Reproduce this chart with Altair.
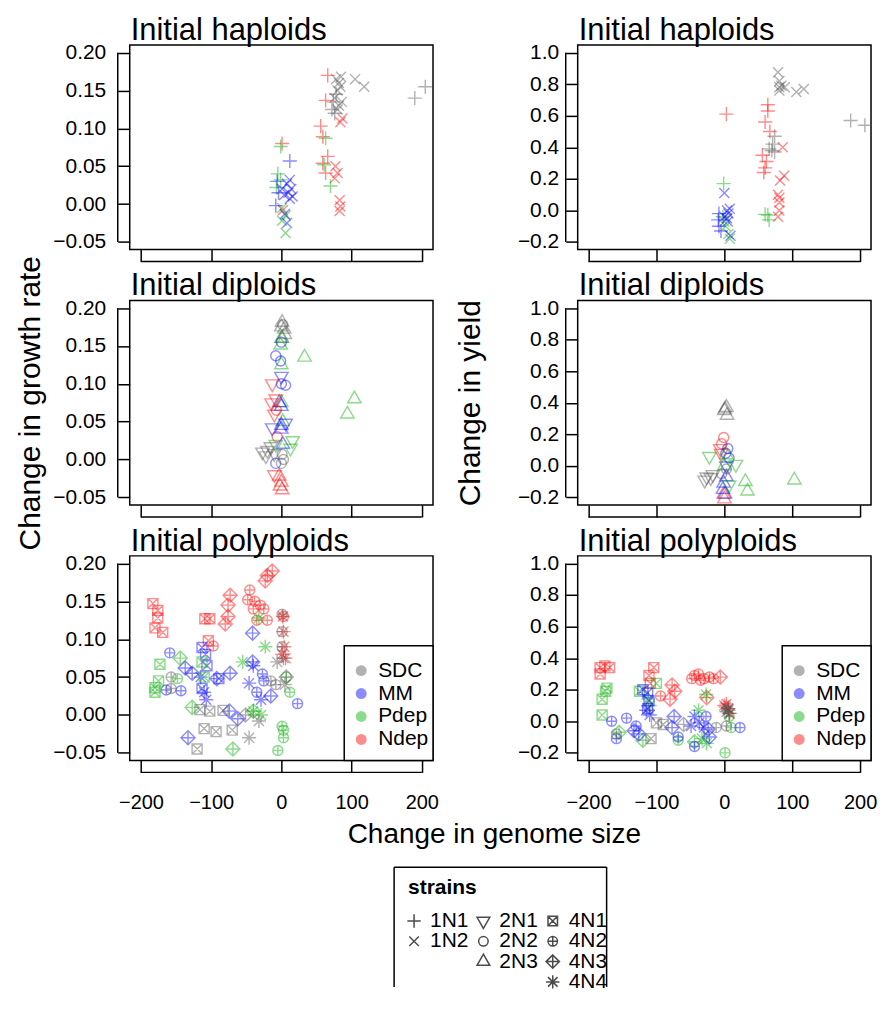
import altair as alt
import pandas as pd

FONT = "Liberation Sans"

ENVS = ["SDC", "MM", "Pdep", "Ndep"]
ENV_COLORS = ["#555555", "#0000ff", "#00b000", "#ff0000"]
STRAINS = ["1N1", "1N2", "2N1", "2N2", "2N3", "4N1", "4N2", "4N3", "4N4"]
# R-like plotting symbols as SVG paths (pch 3, 4, 6, 1, 2, 7, 10, 9, 8)
CIRC = "M0.71,0A0.71,0.71,0,1,1,-0.71,0A0.71,0.71,0,1,1,0.71,0Z"
SHAPES = [
    "M-1,0L1,0M0,-1L0,1",
    "M-0.71,-0.71L0.71,0.71M0.71,-0.71L-0.71,0.71",
    "M0,1.1L0.95,-0.55L-0.95,-0.55Z",
    CIRC,
    "M0,-1.1L0.95,0.55L-0.95,0.55Z",
    "M-0.71,-0.71L0.71,-0.71L0.71,0.71L-0.71,0.71ZM-0.71,-0.71L0.71,0.71M0.71,-0.71L-0.71,0.71",
    CIRC + "M-0.71,0L0.71,0M0,-0.71L0,0.71",
    "M0,-1L1,0L0,1L-1,0ZM0,-1L0,1M-1,0L1,0",
    "M-0.71,-0.71L0.71,0.71M0.71,-0.71L-0.71,0.71M-1,0L1,0M0,-1L0,1",
]

# ---- data: (strain, environment, genome-size changes, trait changes) ----
hap_growth = [
    ("1N1", "SDC", [190, 205, 72, 74, 76, 78], [0.140, 0.155, 0.125, 0.135, 0.120, 0.145]),
    ("1N2", "SDC", [78, 82, 85, 80, 84, 76, 82, 86, 80, 105, 118],
     [0.165, 0.160, 0.168, 0.150, 0.155, 0.140, 0.130, 0.135, 0.125, 0.165, 0.155]),
    ("1N1", "Ndep", [66, 63, 56, 59, 66, 59, 63, 1], [0.170, 0.137, 0.103, 0.089, 0.063, 0.054, 0.041, 0.080]),
    ("1N2", "Ndep", [87, 84, 77, 80, 76, 83, 84, 83, 2],
     [0.113, 0.108, 0.050, 0.041, 0.034, 0.005, -0.003, -0.009, -0.008]),
    ("1N1", "Pdep", [-1, -5, -1, -7, 63, 61, 70], [0.076, 0.040, 0.032, 0.022, 0.087, 0.052, 0.024]),
    ("1N2", "Pdep", [6, 1, 6, 1], [-0.015, -0.022, -0.038, -0.005]),
    ("1N1", "MM", [12, -8, -4, -6], [0.057, -0.002, 0.015, 0.030]),
    ("1N2", "MM", [12, 8, 14, 10, 4, 16, 12, 5, 8, 1],
     [0.032, 0.027, 0.020, 0.015, 0.012, 0.010, 0.007, -0.013, -0.025, 0.020]),
]
hap_yield = [
    ("1N2", "SDC", [79, 81, 84, 81, 89, 81, 106, 117], [0.875, 0.82, 0.79, 0.78, 0.78, 0.76, 0.75, 0.77]),
    ("1N1", "SDC", [186, 207, 74, 70, 74, 66, 71], [0.57, 0.54, 0.47, 0.38, 0.37, 0.39, 0.42]),
    ("1N1", "Ndep", [3, 64, 64, 60, 67, 56, 62, 60, 58], [0.61, 0.67, 0.63, 0.56, 0.50, 0.35, 0.31, 0.27, 0.24]),
    ("1N2", "Ndep", [86, 88, 82, 79, 81, 81, 81, 79], [0.40, 0.22, 0.19, 0.10, 0.08, 0.05, 0.0, -0.04]),
    ("1N1", "Pdep", [-1, 60, 64, 66, -2], [0.17, -0.025, -0.03, -0.06, -0.04]),
    ("1N2", "Pdep", [6, 8, 2, 0], [-0.15, -0.18, -0.10, -0.07]),
    ("1N2", "MM", [0, 4, 8, 6, 0, 5, 9, 4], [0.11, 0.0, 0.01, -0.02, -0.04, -0.07, -0.16, -0.05]),
    ("1N1", "MM", [-8, -9, -8, -5], [-0.02, -0.06, -0.10, -0.13]),
]
dip_growth = [
    ("2N3", "SDC", [1, 4, 0, 5, 1], [0.181, 0.172, 0.175, 0.165, 0.160]),
    ("2N3", "Pdep", [-1, 0, 33, 104, 94, 0, 0, 2], [0.151, 0.160, 0.135, 0.080, 0.060, 0.125, 0.075, 0.050]),
    ("2N2", "MM", [-8, 0, -1, 6, 0, -8], [0.137, 0.155, 0.130, 0.098, 0.100, -0.005]),
    ("2N1", "MM", [0, -13, 6], [0.110, 0.042, 0.048]),
    ("2N3", "MM", [-3, 0, 0, 0, 2], [0.075, 0.070, 0.045, 0.040, 0.020]),
    ("2N1", "Ndep", [-13, -14, -10, -8, -10], [0.100, 0.075, 0.060, 0.080, -0.020]),
    ("2N3", "Ndep", [-3, 0, -2, 1], [-0.022, -0.030, -0.035, -0.040]),
    ("2N2", "Ndep", [-7, -6], [0.065, 0.030]),
    ("2N1", "Pdep", [16, 13, -8], [0.025, 0.015, 0.020]),
    ("2N1", "SDC", [-27, -20, -15, -22, -10], [0.010, 0.012, 0.017, 0.005, 0.008]),
    ("2N2", "SDC", [3, 0, 1, 2], [0.000, -0.005, 0.007, 0.178]),
]
dip_yield = [
    ("2N3", "SDC", [3, 0, 4, 1], [0.37, 0.35, 0.32, 0.36]),
    ("2N1", "SDC", [-26, -17, -29, -20], [-0.07, -0.055, -0.09, -0.075]),
    ("2N2", "Ndep", [-1, -4], [0.18, 0.14]),
    ("2N1", "Ndep", [-6, -5], [0.11, 0.08]),
    ("2N3", "Ndep", [0, -1], [-0.21, -0.18]),
    ("2N2", "MM", [5, 2, 7], [0.11, 0.08, 0.05]),
    ("2N3", "MM", [3, -1, -2, 1], [-0.07, -0.11, -0.15, -0.18]),
    ("2N1", "MM", [3], [0.0]),
    ("2N1", "Pdep", [-22, 17, 7], [0.06, 0.01, -0.12]),
    ("2N3", "Pdep", [31, 34, 103, 3, 0], [-0.10, -0.16, -0.09, 0.07, 0.0]),
    ("2N2", "SDC", [-4, 3], [-0.05, -0.02]),
]
poly_growth = [
    ("4N1", "Ndep", [-183, -176, -176, -180, -169, -109, -102, -104],
     [0.147, 0.138, 0.128, 0.115, 0.109, 0.127, 0.127, 0.098]),
    ("4N2", "Ndep", [-97, -45, -38, -30, -25, -40, -20, -35, 3, -48],
     [0.091, 0.165, 0.150, 0.145, 0.140, 0.140, 0.125, 0.125, 0.130, 0.152]),
    ("4N3", "Ndep", [-73, -76, -76, -80, -20, -13, -23], [0.158, 0.145, 0.130, 0.120, 0.184, 0.190, 0.177]),
    ("4N4", "Ndep", [2, 4, 1, 6, 3], [0.130, 0.090, 0.080, 0.075, 0.110]),
    ("4N2", "MM", [-159, -164, -143, -27, -25, -35, 23], [0.082, 0.033, 0.032, 0.054, 0.045, 0.030, 0.015]),
    ("4N3", "MM", [-137, -127, -92, -73, -41, -41, -74, -62, -133, -15],
     [0.062, 0.055, 0.048, 0.055, 0.108, 0.070, 0.005, -0.005, -0.030, 0.025]),
    ("4N1", "MM", [-113, -108, -106, -113, -89], [0.089, 0.080, 0.065, 0.035, 0.048]),
    ("4N4", "MM", [-115, -110, -107, -46, -29, -40], [0.050, 0.030, 0.020, 0.042, 0.020, 0.065]),
    ("4N1", "Pdep", [-173, -175, -180, -180, -113, -110], [0.067, 0.045, 0.036, 0.030, 0.070, 0.050]),
    ("4N2", "Pdep", [1, 3, 3, -5, 7, 12, -148], [-0.015, -0.020, -0.030, -0.047, 0.050, 0.030, 0.048]),
    ("4N3", "Pdep", [-144, -127, -69, -40], [0.075, 0.010, -0.045, 0.005]),
    ("4N4", "Pdep", [-55, -23, -32, -40, -29], [0.070, 0.090, 0.128, 0.005, 0.000]),
    ("4N1", "SDC", [-120, -110, -93, -70, -102, -83, -116], [-0.045, -0.018, -0.022, -0.020, 0.005, 0.006, 0.007]),
    ("4N2", "SDC", [-157, -157, 1, 1, 1, -8, -15], [0.050, 0.035, 0.133, 0.110, 0.090, 0.040, 0.045]),
    ("4N3", "SDC", [7, -51], [0.050, 0.000]),
    ("4N4", "SDC", [-46, -32, -6, 3, 5], [-0.030, -0.008, 0.070, 0.075, 0.040]),
]
poly_yield = [
    ("4N1", "Ndep", [-183, -176, -169, -183, -104, -111, -109], [0.34, 0.35, 0.34, 0.30, 0.34, 0.29, 0.24]),
    ("4N2", "Ndep", [-44, -38, -30, -22, -48, -35, -94, -16], [0.29, 0.30, 0.27, 0.28, 0.27, 0.26, 0.16, 0.27]),
    ("4N3", "Ndep", [-77, -73, -80, -6, -26], [0.23, 0.19, 0.14, 0.28, 0.15]),
    ("4N4", "Ndep", [6, 3, 8, 0], [0.08, 0.11, 0.05, 0.10]),
    ("4N1", "Pdep", [-173, -175, -180, -180, -125, -100], [0.21, 0.19, 0.14, 0.04, 0.19, 0.24]),
    ("4N2", "Pdep", [1, -68, 7, 10], [-0.20, -0.12, 0.03, -0.04]),
    ("4N3", "Pdep", [-155, -120, -44], [-0.07, -0.12, -0.13]),
    ("4N4", "Pdep", [-110, -27, -33, -26, -38, -112], [0.10, 0.17, -0.11, -0.14, 0.07, 0.14]),
    ("4N2", "MM", [-166, -159, -144, -130, -44, -27, 23, -68], [0.0, -0.11, 0.02, -0.03, -0.16, 0.03, -0.04, -0.10]),
    ("4N3", "MM", [-133, -126, -77, -74, -22, -24], [-0.06, -0.08, -0.04, 0.03, -0.10, -0.05]),
    ("4N1", "MM", [-120, -113, -111, -113], [0.20, 0.18, 0.13, 0.08]),
    ("4N4", "MM", [-115, -110, -44, -37, -30, -49], [0.07, 0.04, 0.03, -0.01, -0.04, -0.03]),
    ("4N1", "SDC", [-108, -100, -90], [-0.11, -0.01, -0.02]),
    ("4N2", "SDC", [-159, -12, 3], [-0.08, -0.04, -0.03]),
    ("4N3", "SDC", [-60], [-0.02]),
    ("4N4", "SDC", [3, 5, 7, 2, 6], [0.06, 0.08, 0.05, 0.09, 0.07]),
]

# strains legend layout (column / row of each strain entry)
STRAIN_COL = [0, 0, 1, 1, 1, 2, 2, 2, 2]
STRAIN_ROW = [0, 1, 0, 1, 2, 0, 1, 2, 3]

GROWTH_TICKS = [-0.05, 0.0, 0.05, 0.10, 0.15, 0.20]
YIELD_TICKS = [-0.2, 0.0, 0.2, 0.4, 0.6, 0.8, 1.0]
X_TICKS = [-200, -100, 0, 100, 200]
X_DOMAIN = [-216, 216]
GROWTH_DOMAIN = [-0.06, 0.21]
YIELD_DOMAIN = [-0.248, 1.048]

W_L, W_R, H = 304, 294, 205
TICK = 12

color_scale = alt.Scale(domain=ENVS, range=ENV_COLORS)
shape_scale = alt.Scale(domain=STRAINS, range=SHAPES)
ONE = pd.DataFrame({"a": [0]})


def to_df(groups):
    rows = []
    for strain, env, xs, ys in groups:
        for xv, yv in zip(xs, ys):
            rows.append({"strain": strain, "env": env, "dgs": xv, "val": yv})
    return pd.DataFrame(rows)


def color_legend(width):
    leg_df = pd.DataFrame({"env": ENVS, "row": [0, 1, 2, 3]})
    box = alt.Chart(ONE).mark_rect(
        fill="white", stroke="black", strokeWidth=1.5
    ).encode(x=alt.value(width - 89), x2=alt.value(width), y=alt.value(90), y2=alt.value(H))
    ly = alt.Y("row:Q", scale=alt.Scale(domain=[0, 3], range=[115, 184]), axis=None)
    dots = alt.Chart(leg_df).mark_point(filled=True, shape="circle", size=120, opacity=0.45).encode(
        x=alt.value(width - 72), y=ly,
        color=alt.Color("env:N", scale=color_scale, legend=None),
    )
    labs = alt.Chart(leg_df).mark_text(align="left", baseline="middle", fontSize=21,
                                       font=FONT, color="black").encode(
        x=alt.value(width - 55), y=ly, text="env:N")
    return alt.layer(box, dots, labs)


def strains_legend():
    # placed below the bottom-left panel (offsets relative to its plot area)
    ox, oy, bottom = 265, 312, 432
    sdf = pd.DataFrame({"strain": STRAINS, "col": STRAIN_COL, "row": STRAIN_ROW})
    sx = alt.X("col:Q", scale=alt.Scale(domain=[0, 2], range=[ox + 20, ox + 159]), axis=None)
    sy = alt.Y("row:Q", scale=alt.Scale(domain=[0, 3], range=[oy + 54, oy + 115]), axis=None)
    edge = alt.Chart(ONE).mark_rule(color="black", strokeWidth=1.5)
    top = edge.encode(x=alt.value(ox), x2=alt.value(ox + 213), y=alt.value(oy))
    left = edge.encode(x=alt.value(ox), y=alt.value(oy), y2=alt.value(bottom))
    right = edge.encode(x=alt.value(ox + 213), y=alt.value(oy), y2=alt.value(bottom))
    ssym = alt.Chart(sdf).mark_point(filled=False, color="black", strokeWidth=1.5, size=180).encode(
        x=sx, y=sy, shape=alt.Shape("strain:N", scale=shape_scale, legend=None))
    stxt = alt.Chart(sdf).mark_text(align="left", baseline="middle", dx=16, fontSize=21,
                                    font=FONT, color="black").encode(x=sx, y=sy, text="strain:N")
    sttl = alt.Chart(pd.DataFrame({"t": ["strains"]})).mark_text(
        align="left", baseline="alphabetic", fontSize=21, fontWeight="bold", font=FONT, color="black"
    ).encode(x=alt.value(ox + 14), y=alt.value(oy + 27), text="t:N")
    return alt.layer(top, left, right, ssym, stxt, sttl)


def panel(groups, ydom, yticks, yfmt, title, width, bottom=False, ytitle=None,
          ytitle_x=0, xtitle=None, legend=False, strains=False, label_pad=8, anchor=False):
    df = to_df(groups)
    xscale = alt.Scale(domain=X_DOMAIN, nice=False, zero=False)
    yscale = alt.Scale(domain=ydom, nice=False, zero=False)
    xaxis_kw = dict(values=X_TICKS, labels=bottom, format="d", labelPadding=20,
                    labelFontSize=20)
    if xtitle:
        xaxis_kw.update(title=xtitle, titleX=365, titleY=82, titleAlign="center",
                        titleBaseline="alphabetic", titleFontSize=28)
    else:
        xaxis_kw.update(title=None)
    xaxis = alt.Axis(**xaxis_kw)
    yaxis_kw = dict(values=yticks, format=yfmt, labelPadding=label_pad, labelFontSize=21)
    if ytitle:
        yaxis_kw.update(title=ytitle, titleX=ytitle_x, titleY=H / 2, titleAngle=270,
                        titleAlign="center", titleBaseline="alphabetic", titleFontSize=30)
    else:
        yaxis_kw.update(title=None)
    yaxis = alt.Axis(**yaxis_kw)

    pts = alt.Chart(df).mark_point(filled=False, strokeWidth=1.4, opacity=0.45, size=200).encode(
        x=alt.X("dgs:Q", scale=xscale, axis=xaxis),
        y=alt.Y("val:Q", scale=yscale, axis=yaxis),
        color=alt.Color("env:N", scale=color_scale, legend=None),
        shape=alt.Shape("strain:N", scale=shape_scale, legend=None),
    )
    ext = pd.DataFrame({"ylo": [yticks[0]], "yhi": [yticks[-1]],
                        "xlo": [X_TICKS[0]], "xhi": [X_TICKS[-1]]})
    yline = alt.Chart(ext).mark_rule(color="black", strokeWidth=1.5).encode(
        x=alt.value(-TICK),
        y=alt.Y("ylo:Q", scale=yscale, axis=yaxis),
        y2="yhi:Q",
    )
    xline = alt.Chart(ext).mark_rule(color="black", strokeWidth=1.5).encode(
        y=alt.value(H + TICK),
        x=alt.X("xlo:Q", scale=xscale, axis=xaxis),
        x2="xhi:Q",
    )
    ttl = alt.Chart(pd.DataFrame({"t": [title]})).mark_text(
        align="left", baseline="alphabetic", fontSize=31, font=FONT, color="black"
    ).encode(text="t:N", x=alt.value(1), y=alt.value(-5))
    layers = [pts, yline, xline, ttl]
    if anchor:
        # invisible marker fixing the top-left corner of the drawing
        layers.append(alt.Chart(ONE).mark_point(opacity=0, size=1).encode(
            x=alt.value(-120), y=alt.value(-34)))
    main = alt.layer(*layers)
    extras = []
    if legend:
        extras.append(color_legend(width))
    if strains:
        extras.append(strains_legend())
    if extras:
        main = alt.layer(main, *extras).resolve_scale(x="independent", y="independent")
    return main.properties(width=width, height=H)


p11 = panel(hap_growth, GROWTH_DOMAIN, GROWTH_TICKS, ".2f", "Initial haploids", W_L, label_pad=12,
            anchor=True)
p12 = panel(hap_yield, YIELD_DOMAIN, YIELD_TICKS, ".1f", "Initial haploids", W_R, label_pad=7)
p21 = panel(dip_growth, GROWTH_DOMAIN, GROWTH_TICKS, ".2f", "Initial diploids", W_L, label_pad=12,
            ytitle="Change in growth rate", ytitle_x=-90)
p22 = panel(dip_yield, YIELD_DOMAIN, YIELD_TICKS, ".1f", "Initial diploids", W_R, label_pad=7,
            ytitle="Change in yield", ytitle_x=-98)
p31 = panel(poly_growth, GROWTH_DOMAIN, GROWTH_TICKS, ".2f", "Initial polyploids", W_L, label_pad=12,
            bottom=True, xtitle="Change in genome size", legend=True, strains=True)
p32 = panel(poly_yield, YIELD_DOMAIN, YIELD_TICKS, ".1f", "Initial polyploids", W_R, label_pad=7,
            bottom=True, legend=True)

chart = alt.concat(
    p11, p12, p21, p22, p31, p32, columns=2,
    spacing={"row": 51, "column": 145}, bounds="flush"
).configure_view(
    stroke="black", strokeWidth=1.5
).configure_axis(
    labelFont=FONT, titleFont=FONT, labelColor="black", titleColor="black",
    tickColor="black", tickWidth=1.5, tickSize=TICK, grid=False, domain=False,
    titleFontSize=28, titleFontWeight="normal", labelFlush=False, labelOverlap=False,
).properties(background="white", padding={"left": 0, "top": 0, "right": 0, "bottom": 0})

chart.save("out.html", embed_options={"renderer": "svg", "actions": False})
